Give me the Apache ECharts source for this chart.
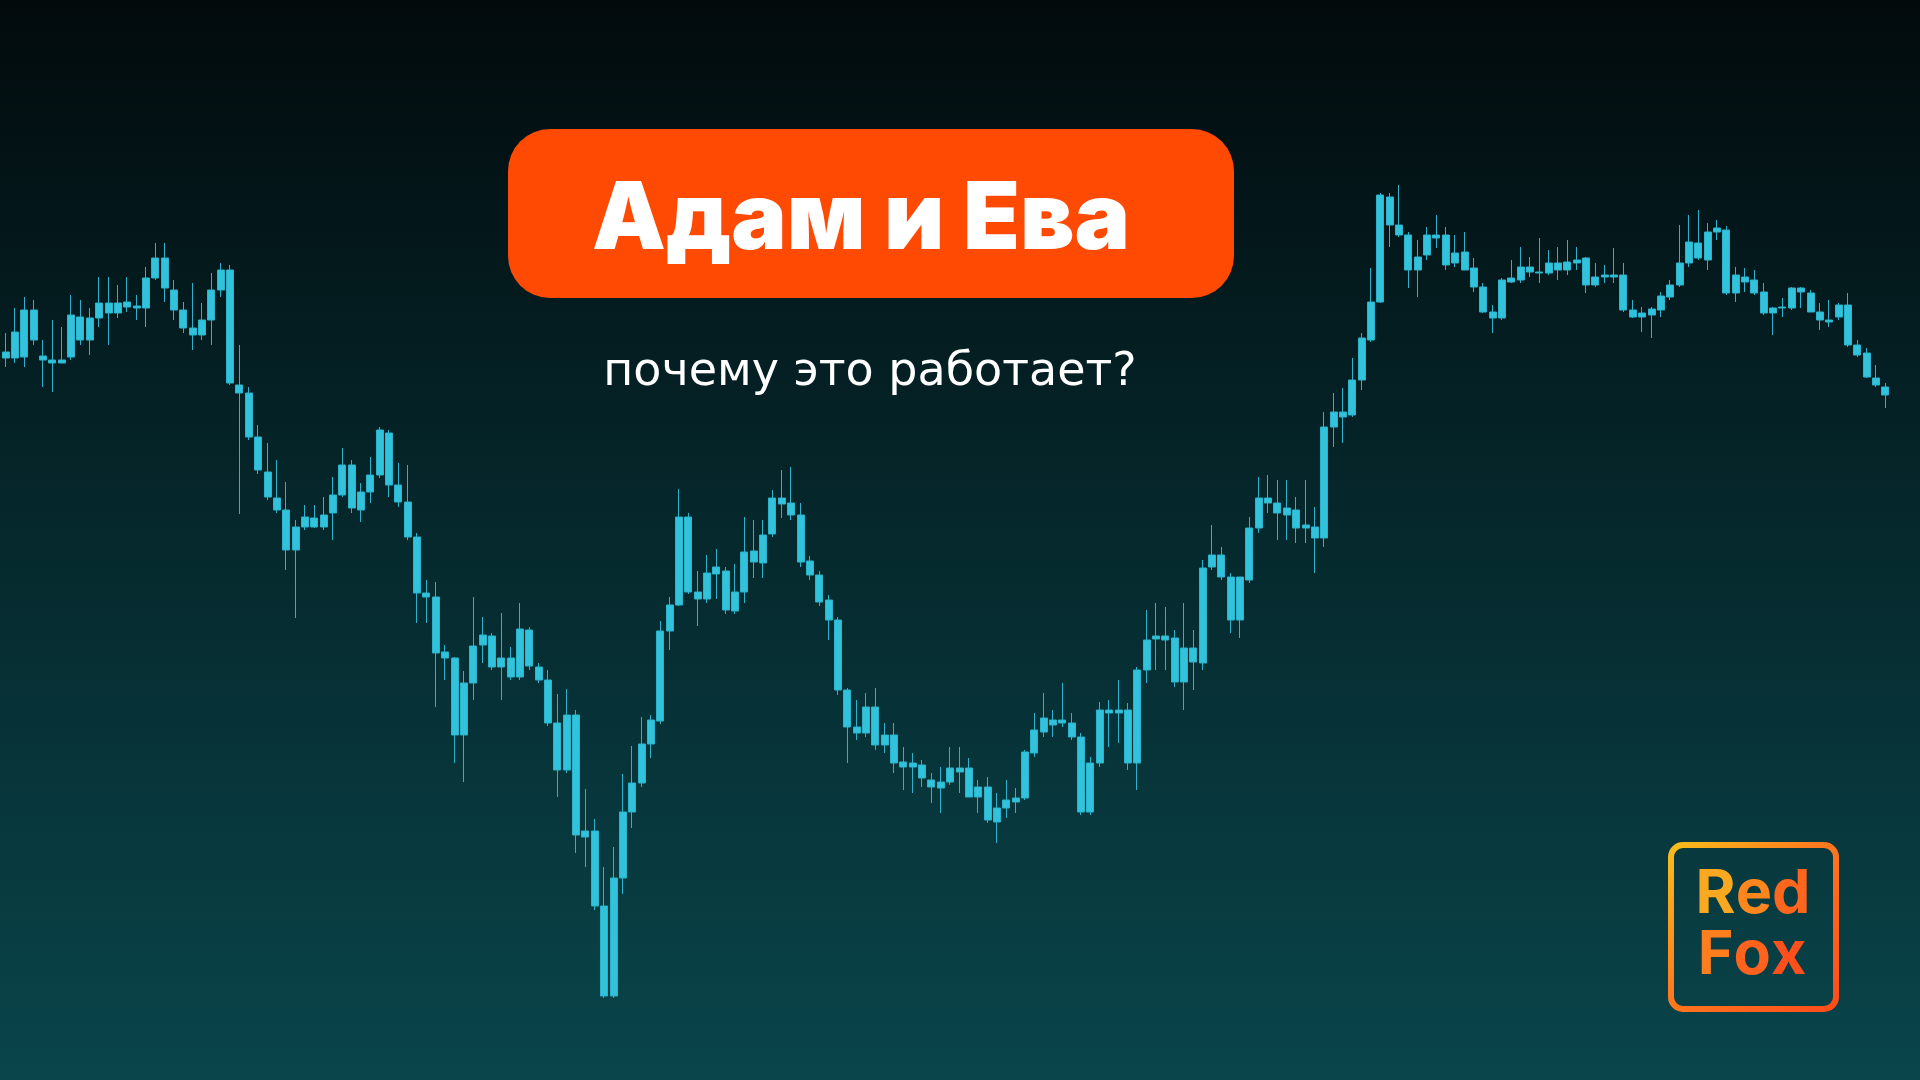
<!DOCTYPE html>
<html><head><meta charset="utf-8">
<script src="https://cdn.jsdelivr.net/npm/echarts@6/dist/echarts.min.js"></script>
<style>html,body{margin:0;padding:0;background:#041012}#c{width:1920px;height:1080px}</style>
</head><body><div id="c"></div>
<script>
// Levels (screen-level units, larger = lower on screen)
const openLv = [
352,332,310,310,356,360,360,315,317,318,
303,303,303,302,306,278,258,258,290,310,
328,320,290,270,270,385,393,437,472,498,
510,527,517,518,515,495,465,465,492,475,
430,433,485,502,537,593,597,652,658,683,
646,635,636,658,658,629,630,667,680,723,
715,715,831,831,906,878,812,783,744,720,
631,605,517,517,592,573,567,571,592,552,
551,535,498,498,503,515,561,575,600,620,
690,727,707,707,735,735,762,763,765,780,
782,768,768,768,787,787,808,800,798,752,
730,718,720,720,723,737,763,710,710,710,
710,670,640,636,636,638,648,648,568,555,
555,577,577,528,498,498,503,508,510,525,
527,427,412,412,380,338,302,195,197,225,
235,257,235,235,235,253,252,268,287,312,
280,278,267,267,272,263,263,262,260,258,
277,275,275,275,310,313,309,296,285,263,
242,243,232,228,230,275,277,280,292,308,
307,288,288,293,312,320,305,305,345,353,
378,387];
const closeLv = [
358,358,357,340,360,363,363,357,340,340,
318,313,313,307,308,308,278,288,310,328,
335,335,320,290,383,393,437,470,497,510,
550,550,527,527,527,513,495,508,510,492,
475,485,502,537,593,597,653,658,735,735,
683,645,667,667,677,677,666,680,723,770,
770,835,837,906,996,996,878,812,783,744,
721,631,605,592,599,599,574,610,611,592,
562,563,534,504,515,562,575,602,620,690,
727,733,733,745,745,763,767,767,778,787,
788,782,772,797,797,820,822,808,802,798,
753,732,725,723,737,812,812,763,713,713,
763,763,670,639,640,682,682,662,663,567,
577,620,620,580,528,503,513,515,528,528,
538,538,427,417,415,380,340,302,225,235,
270,270,255,238,265,263,270,287,312,318,
318,282,280,272,273,273,270,270,263,285,
285,277,277,310,317,317,315,310,297,285,
263,258,260,232,293,293,282,293,313,313,
308,308,292,312,320,322,317,345,355,377,
385,395];
const lowLv = [
333,308,297,300,340,320,327,295,300,308,
277,277,285,277,295,267,243,243,280,302,
283,303,273,263,265,345,387,425,443,460,
482,520,505,505,497,477,448,460,483,457,
427,430,463,465,533,580,582,645,657,671,
597,617,633,613,647,603,627,663,670,694,
689,710,789,819,867,847,774,746,717,715,
621,597,489,513,571,555,549,567,564,517,
520,520,490,470,467,503,556,571,595,617,
688,700,693,688,723,723,747,753,760,773,
767,747,747,758,780,777,793,780,788,750,
713,693,710,683,713,733,757,702,700,680,
703,667,610,603,607,630,603,630,560,525,
547,573,577,517,477,475,480,480,497,480,
507,412,393,388,358,333,268,193,193,185,
232,240,227,215,227,235,232,258,283,305,
278,260,247,257,238,250,247,240,247,257,
263,265,248,263,300,307,307,292,280,225,
215,210,223,220,226,267,268,270,283,307,
298,287,287,290,303,300,303,293,340,348,
365,383];
const highLv = [
367,363,367,345,387,392,363,360,345,355,
327,345,318,312,320,327,280,302,320,333,
350,340,345,297,385,514,440,474,500,513,
570,618,530,528,530,540,497,513,522,503,
478,497,507,540,623,623,707,680,763,782,
700,663,670,700,680,680,670,683,726,797,
773,853,867,910,998,998,894,828,787,758,
724,650,606,594,626,603,599,614,614,603,
578,578,537,518,520,567,580,606,640,695,
763,740,737,750,753,773,790,793,787,803,
813,785,793,797,813,823,843,818,813,800,
757,737,737,727,740,815,815,767,747,743,
770,790,683,670,670,687,710,690,670,570,
580,633,638,583,533,513,540,540,543,543,
573,547,447,443,417,390,342,303,247,237,
288,297,260,248,270,267,270,292,313,333,
320,283,283,277,283,275,280,275,270,293,
287,283,283,312,318,332,338,317,300,287,
267,260,270,240,295,302,292,295,315,335,
317,310,308,312,330,327,320,347,357,378,
387,408];
const categories = openLv.map((_, i) => 'C' + (i + 1));
const titleText = 'Адам и Ева';
const subtitleText = 'почему это работает?';
const logoLines = ['Red', 'Fox'];

const chart = echarts.init(document.getElementById('c'), null, {renderer: 'canvas'});
const candleData = categories.map((_, i) => [openLv[i], closeLv[i], lowLv[i], highLv[i]]);
const cyan = '#31c2dc';
const logoFont = '700 61px Inter';
const letterRich = (cols) => ({
  a: {fill: cols[0], font: logoFont},
  b: {fill: cols[1], font: logoFont},
  c: {fill: cols[2], font: logoFont}
});
const splitLetters = (w) => '{a|' + w[0] + '}{b|' + w[1] + '}{c|' + w[2] + '}';

chart.setOption({
  animation: false,
  backgroundColor: new echarts.graphic.LinearGradient(0, 0, 0, 1, [
    {offset: 0, color: '#020a0c'},
    {offset: 0.45, color: '#05262a'},
    {offset: 1, color: '#09454b'}
  ]),
  grid: {left: 1, right: 30, top: 0, bottom: 0},
  xAxis: {type: 'category', data: categories, show: false, boundaryGap: true},
  yAxis: {type: 'value', min: 0, max: 1080, inverse: true, show: false},
  series: [{
    type: 'candlestick',
    data: candleData,
    barWidth: 7.5,
    itemStyle: {color: cyan, color0: cyan, borderColor: '#2cb3cb', borderColor0: '#2cb3cb', borderWidth: 1}
  }],
  graphic: [
    {type: 'rect', left: 508, top: 129, shape: {width: 726, height: 169, r: 42},
     style: {fill: '#ff4a04'}, z: 10},
    {type: 'text', x: 861, y: 221, z: 11,
     style: {text: titleText, fill: '#ffffff', font: '900 93px Inter', align: 'center', verticalAlign: 'middle'}},
    {type: 'text', x: 870, y: 373, z: 11,
     style: {text: subtitleText, fill: '#ffffff', font: '400 46px "DejaVu Sans"', align: 'center', verticalAlign: 'middle'}},
    {type: 'rect', left: 1668, top: 842, shape: {width: 165, height: 164, r: 12}, z: 10,
     style: {fill: 'rgba(0,0,0,0)', lineWidth: 6,
       stroke: new echarts.graphic.LinearGradient(0, 0, 1, 1, [
         {offset: 0, color: '#f7c01c'}, {offset: 0.45, color: '#ff7a1e'}, {offset: 1, color: '#ff4a1a'}])}},
    {type: 'text', x: 1753, y: 895, z: 11,
     style: {text: splitLetters(logoLines[0]), rich: letterRich(['#f9a820', '#fd861e', '#ff661d']), align: 'center', verticalAlign: 'middle'}},
    {type: 'text', x: 1752, y: 956, z: 11,
     style: {text: splitLetters(logoLines[1]), rich: letterRich(['#fd7e1e', '#ff621d', '#ff4f1c']), align: 'center', verticalAlign: 'middle'}}
  ]
});
</script>
</body></html>
